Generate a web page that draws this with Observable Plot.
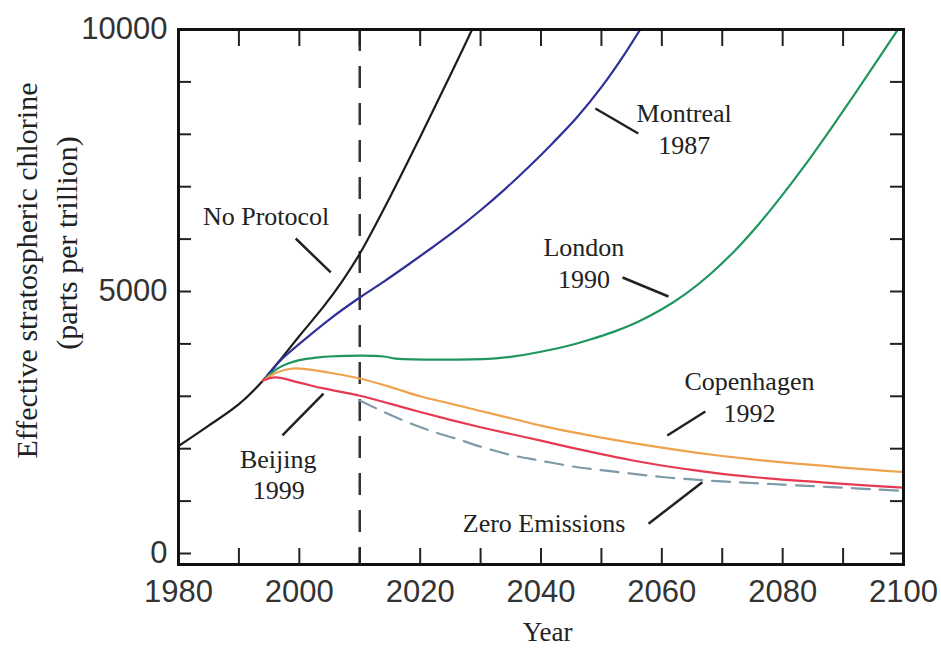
<!DOCTYPE html>
<html>
<head>
<meta charset="utf-8">
<script src="https://cdn.jsdelivr.net/npm/d3@7"></script>
<script src="https://cdn.jsdelivr.net/npm/@observablehq/plot@0.6"></script>
<style>
  html, body { margin: 0; padding: 0; background: #fff; }
</style>
</head>
<body>
<div id="chart"></div>
<script>
// ---- Data (year, effective chlorine ppt) ----
const noProtocol = [[1980,2050],[1985,2440],[1990,2850],[1994,3300],[1997,3720],[2000,4150],[2004,4710],[2007,5180],[2010,5720],[2015,6800],[2020,7950],[2025,9130],[2030,10340]];
const montreal = [[1994,3300],[1997,3700],[2000,4000],[2005,4470],[2010,4885],[2014,5190],[2018,5510],[2022,5840],[2026,6180],[2030,6550],[2034,6950],[2038,7380],[2042,7840],[2046,8330],[2050,8900],[2054,9560],[2058,10300]];
const london = [[1994,3300],[1996,3500],[1998,3620],[2000,3690],[2003,3740],[2005,3760],[2014,3760],[2016,3720],[2032,3720],[2036,3770],[2040,3850],[2044,3950],[2048,4080],[2052,4230],[2056,4420],[2060,4660],[2064,4960],[2068,5330],[2072,5770],[2076,6280],[2080,6850],[2084,7460],[2088,8110],[2092,8780],[2096,9470],[2100,10160]];
const copenhagen = [[1994,3300],[1996,3440],[1999,3530],[2005,3450],[2010,3340],[2015,3180],[2020,3000],[2025,2860],[2030,2720],[2035,2580],[2040,2440],[2045,2320],[2050,2210],[2055,2110],[2060,2020],[2065,1935],[2070,1860],[2075,1795],[2080,1740],[2085,1690],[2090,1640],[2095,1595],[2100,1555]];
const beijing = [[1994,3300],[1996,3360],[2000,3260],[2004,3150],[2010,3010],[2015,2860],[2020,2700],[2025,2550],[2030,2410],[2035,2280],[2040,2155],[2045,2020],[2050,1895],[2055,1780],[2060,1680],[2065,1595],[2070,1520],[2075,1460],[2080,1410],[2085,1370],[2090,1330],[2095,1290],[2100,1255]];
const zeroEmissions = [[2010,2920],[2014,2700],[2018,2500],[2022,2330],[2026,2190],[2030,2040],[2035,1880],[2040,1770],[2045,1665],[2050,1590],[2055,1525],[2060,1460],[2065,1415],[2070,1375],[2075,1345],[2080,1315],[2085,1285],[2090,1255],[2095,1225],[2100,1195]];

const seriesNames = ["No Protocol", "Montreal 1987", "London 1990", "Copenhagen 1992", "Beijing 1999", "Zero Emissions"];
const seriesData = [noProtocol, montreal, london, copenhagen, beijing, zeroEmissions];

// Axis ticks and labels
const decadeTicks = [1980, 1990, 2000, 2010, 2020, 2030, 2040, 2050, 2060, 2070, 2080, 2090, 2100];
const yearLabels = [1980, 2000, 2020, 2040, 2060, 2080, 2100];
const thousandTicks = [0, 1000, 2000, 3000, 4000, 5000, 6000, 7000, 8000, 9000, 10000];
const valueLabels = [0, 5000, 10000];
const markerYear = [2010];

// Annotation texts (anchored in data space)
const labelTexts = ["No Protocol", "Montreal", "1987", "London", "1990", "Copenhagen", "1992", "Beijing", "1999", "Zero Emissions"];
const labelYears = [1994.5, 2063.7, 2063.7, 2047.1, 2047.1, 2074.5, 2074.5, 1996.5, 1996.6, 2040.5];
const labelValues = [6437, 8403, 7792, 5845, 5235, 3288, 2677, 1800, 1208, 578];

// Leader lines [year1, value1, year2, value2]
const leaderLines = [
  [1999.4, 6011, 2005.2, 5363],
  [2049.0, 8492, 2056.1, 8015],
  [2053.5, 5267, 2061.1, 4905],
  [2067.2, 2710, 2060.9, 2252],
  [1997.2, 2252, 2004.0, 3053],
  [2057.8, 567, 2066.7, 1361]
];

// ---- Styles (kept separate from data) ----
const colors = {
  "No Protocol": "#1c1c1c",
  "Montreal 1987": "#30309a",
  "London 1990": "#1f9660",
  "Copenhagen 1992": "#eea24c",
  "Beijing 1999": "#e63a52",
  "Zero Emissions": "#7e9aa8"
};

const rows = seriesNames.flatMap((name, i) => seriesData[i].map(([year, value]) => ({series: name, year, value})));
const solidRows = rows.filter(d => d.series !== "Zero Emissions");
const dashedRows = rows.filter(d => d.series === "Zero Emissions");
const labels = labelTexts.map((t, i) => ({text: t, year: labelYears[i], value: labelValues[i]}));
const leaders = leaderLines.map(([x1, y1, x2, y2]) => ({x1, y1, x2, y2}));

const serif = "'Liberation Serif', 'Times New Roman', Times, serif";
const sans = "'Liberation Sans', Arial, Helvetica, sans-serif";

const chart = Plot.plot({
  width: 941,
  height: 650,
  marginLeft: 178,
  marginRight: 38,
  marginTop: 29,
  marginBottom: 86,
  style: {background: "#fff", fontFamily: sans, overflow: "visible"},
  x: {domain: [1980, 2100]},
  y: {domain: [-210, 10000]},
  marks: [
    Plot.ruleX(markerYear, {stroke: "#333", strokeWidth: 2.5, strokeDasharray: "22,15"}),
    Plot.line(solidRows, {x: "year", y: "value", z: "series", stroke: d => colors[d.series], strokeWidth: 2.2, curve: "catmull-rom", clip: true}),
    Plot.line(dashedRows, {x: "year", y: "value", stroke: colors["Zero Emissions"], strokeWidth: 2.2, strokeDasharray: "18,10", curve: "catmull-rom", clip: true}),
    Plot.link(leaders, {x1: "x1", y1: "y1", x2: "x2", y2: "y2", stroke: "#222", strokeWidth: 2.5}),
    Plot.text(labels, {x: "year", y: "value", text: "text", fontFamily: serif, fontSize: 26, fill: "#222", textAnchor: "middle", lineAnchor: "middle"}),
    // tick marks (inward) on all four sides
    Plot.axisX({ticks: decadeTicks, anchor: "bottom", tickSize: -16, tickFormat: () => "", stroke: "#222", strokeWidth: 2, label: null}),
    Plot.axisX({ticks: decadeTicks, anchor: "top", tickSize: -16, tickFormat: () => "", stroke: "#222", strokeWidth: 2, label: null}),
    Plot.axisY({ticks: thousandTicks, anchor: "left", tickSize: -13, tickFormat: () => "", stroke: "#222", strokeWidth: 2, label: null}),
    Plot.axisY({ticks: thousandTicks, anchor: "right", tickSize: -14, tickFormat: () => "", stroke: "#222", strokeWidth: 2, label: null}),
    // tick labels
    Plot.axisX({ticks: yearLabels, anchor: "bottom", tickSize: 0, tickPadding: 15, tickFormat: d => String(d), fontSize: 31, fill: "#333", label: null}),
    Plot.axisY({ticks: valueLabels, anchor: "left", tickSize: 0, tickPadding: 11, tickFormat: d => String(d), fontSize: 31, fill: "#333", label: null}),
    Plot.frame({stroke: "#111", strokeWidth: 3}),
    // axis titles
    Plot.text(["Year"], {frameAnchor: "bottom", text: d => d, dx: 6.5, dy: 68, fontFamily: serif, fontSize: 27, fill: "#222", textAnchor: "middle", lineAnchor: "middle"}),
    Plot.text(["Effective stratospheric chlorine"], {frameAnchor: "left", text: d => d, dx: -151.6, dy: -26.5, rotate: -90, fontFamily: serif, fontSize: 30, fill: "#222", textAnchor: "middle", lineAnchor: "middle"}),
    Plot.text(["(parts per trillion)"], {frameAnchor: "left", text: d => d, dx: -111, dy: -54, rotate: -90, fontFamily: serif, fontSize: 30, fill: "#222", textAnchor: "middle", lineAnchor: "middle"})
  ]
});

document.getElementById("chart").appendChild(chart);
</script>
</body>
</html>
